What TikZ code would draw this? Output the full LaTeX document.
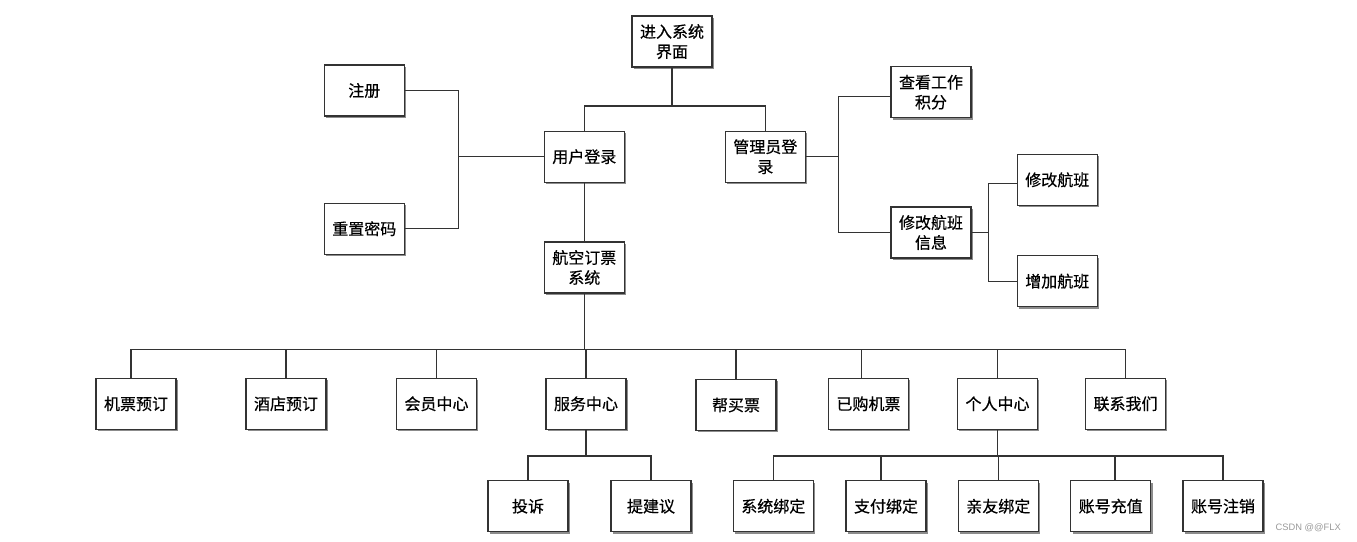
\documentclass[tikz,border=0pt]{standalone}
\usepackage{fontspec}
\newfontfamily\cjk[FakeBold=0.5]{Noto Sans CJK SC}
\newfontfamily\wmfont{Liberation Sans}
\usetikzlibrary{shadows}
\begin{document}
\begin{tikzpicture}[x=0.75pt,y=-0.75pt,
  box/.style={draw=black!80, line width=0.9pt, fill=white, minimum width=60pt,
    minimum height=38.25pt, inner sep=0pt, align=center,
    font=\cjk\fontsize{12}{15}\selectfont,
    drop shadow={shadow xshift=1.4pt, shadow yshift=-1.4pt, fill=black!45, opacity=1}},
  link/.style={draw=black!80, line width=0.8pt}]
\useasboundingbox (0,0) rectangle (1357,542);

% upper part
\node[box] (top)   at (672,41.6)    {进入系统\\界面};
\node[box] (reg)   at (364.3,90.5)  {注册};
\node[box] (reset) at (364.3,228.7) {重置密码};
\node[box] (user)  at (584.3,156.7) {用户登录};
\node[box] (admin) at (765.3,156.7) {管理员登\\录};
\node[box] (sys)   at (584.3,267.5) {航空订票\\系统};
\node[box] (score) at (931,92.2)    {查看工作\\积分};
\node[box] (info)  at (931,232.5)   {修改航班\\信息};
\node[box] (mod)   at (1057.3,179.8) {修改航班};
\node[box] (add)   at (1057.3,281.2) {增加航班};

% main row
\node[box] (c1) at (136,403.8)    {机票预订};
\node[box] (c2) at (286,403.8)    {酒店预订};
\node[box] (c3) at (436.5,403.8)  {会员中心};
\node[box] (c4) at (586,403.8)    {服务中心};
\node[box] (c5) at (736,405)      {帮买票};
\node[box] (c6) at (868.5,403.8)  {已购机票};
\node[box] (c7) at (997.5,403.8)  {个人中心};
\node[box] (c8) at (1125.5,403.8) {联系我们};

% bottom row
\node[box] (s1) at (528,506.2)    {投诉};
\node[box] (s2) at (651,506.2)    {提建议};
\node[box] (p1) at (773.3,506.2)  {系统绑定};
\node[box] (p2) at (886,506.2)    {支付绑定};
\node[box] (p3) at (998.3,506.2)  {亲友绑定};
\node[box] (p4) at (1110.7,506.2) {账号充值};
\node[box] (p5) at (1223,506.2)   {账号注销};

% connectors: top
\coordinate (topbus) at (672,106);
\draw[link] (top.south) -- (topbus);
\draw[link] (user.north) |- (topbus) -| (admin.north);

% left
\coordinate (lj) at (458.7,154.3);
\draw[link] (user.west) -- (user.west -| lj);
\draw[link] (reg.east) -| (lj);
\draw[link] (reset.east) -| (lj);

% admin
\coordinate (aj) at (838.3,159);
\draw[link] (admin.east) -- (admin.east -| aj);
\draw[link] ([yshift=-3pt]score.west) -| (aj);
\draw[link] (info.west) -| (aj);

\coordinate (ij) at (988.3,233);
\draw[link] (info.east) -- (info.east -| ij);
\draw[link] ([yshift=-3pt]mod.west) -| (ij);
\draw[link] (add.west) -| (ij);

% system
\draw[link] (user.south) -- (sys.north);
\coordinate (mbus) at (584.3,349.3);
\draw[link] (sys.south) -- (mbus);
\draw[link] ([xshift=-3.75pt]c1.north) |- (mbus);
\draw[link] (c8.north) |- (mbus);
\draw[link] (c2.north) -- (c2.north |- mbus);
\draw[link] (c3.north) -- (c3.north |- mbus);
\draw[link] (c4.north) -- (c4.north |- mbus);
\draw[link] (c5.north) -- (c5.north |- mbus);
\draw[link] ([xshift=-5.6pt]c6.north) -- ++(0,-29);
\draw[link] (c7.north) -- (c7.north |- mbus);

% service
\coordinate (sbus) at (586,456);
\draw[link] (c4.south) -- (sbus);
\draw[link] (s1.north) |- (sbus) -| (s2.north);

% personal
\coordinate (pbus) at (997.5,456);
\draw[link] (c7.south) -- (pbus);
\draw[link] (p3.north) -- (p3.north |- pbus);
\draw[link] (p1.north) |- (pbus) -| (p5.north);
\draw[link] ([xshift=-3.75pt]p2.north) -- ++(0,-25);
\draw[link] ([xshift=3.2pt]p4.north) -- ++(0,-25);

% watermark
\node[anchor=east, inner sep=0pt, text=black!40, font=\wmfont\fontsize{7}{8}\selectfont] (wm) at (1341,528) {CSDN @@FLX};
\end{tikzpicture}
\end{document}
